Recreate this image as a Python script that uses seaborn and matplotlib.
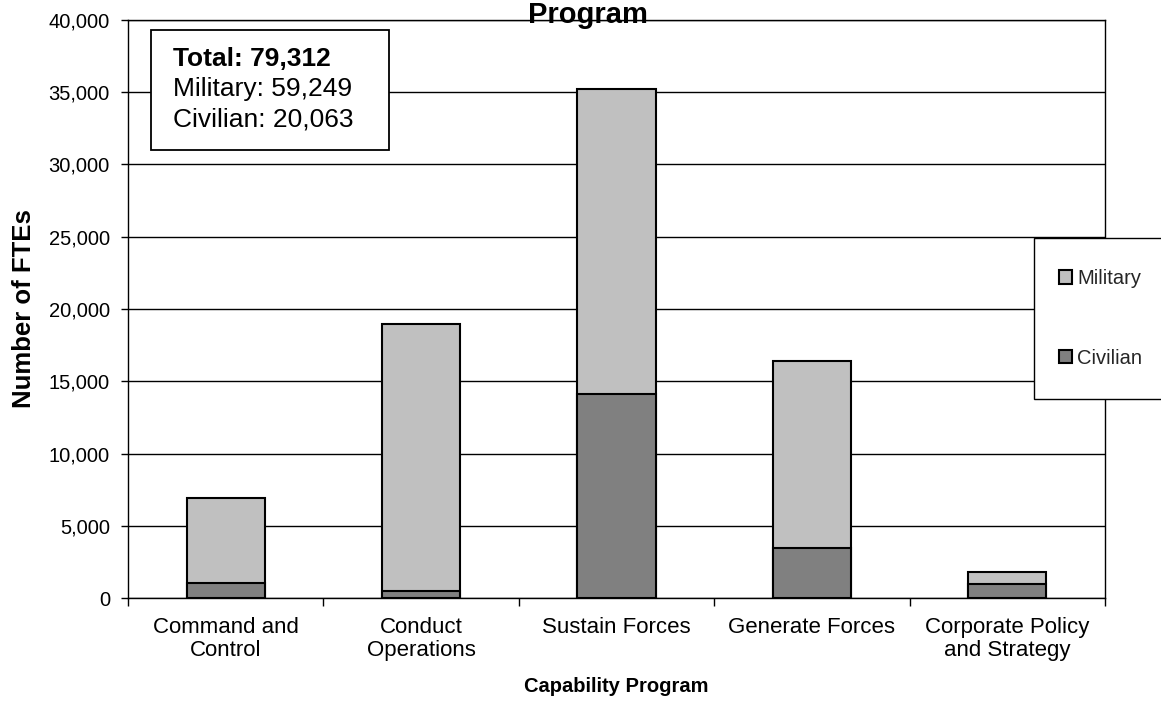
import matplotlib
matplotlib.use("Agg")
import matplotlib.pyplot as plt
from matplotlib.patches import Patch, Rectangle
from matplotlib.ticker import FuncFormatter, FixedLocator
import pandas as pd
import seaborn as sns

# FTEs by capability program
programs = [
    "Command and\nControl",
    "Conduct\nOperations",
    "Sustain Forces",
    "Generate Forces",
    "Corporate Policy\nand Strategy",
]
military = [5880, 18460, 21080, 12950, 879]
civilian = [1050, 480, 14120, 3470, 943]
y_ticks = [0, 5000, 10000, 15000, 20000, 25000, 30000, 35000, 40000]
summary_lines = ["Total: 79,312", "Military: 59,249", "Civilian: 20,063"]

MIL_COLOR = "#C0C0C0"
CIV_COLOR = "#808080"

sns.set_theme(style="white")
plt.rcParams["font.family"] = ["Liberation Sans", "DejaVu Sans"]

df = pd.DataFrame({"program": programs, "Military": military, "Civilian": civilian})
df["Total"] = df["Military"] + df["Civilian"]

W, H = 1161, 704
fig = plt.figure(figsize=(W / 100, H / 100), dpi=100)
ax = fig.add_axes([128 / W, 1 - 598 / H, (1105 - 128) / W, (598 - 20) / H])
ax.set_axisbelow(True)

# stacked bars: full height in the military colour, civilian segment on top of it
bar_kw = dict(width=0.4, edgecolor="black", linewidth=1.5, saturation=1, ax=ax, zorder=3)
sns.barplot(data=df, x="program", y="Total", color=MIL_COLOR, **bar_kw)
sns.barplot(data=df, x="program", y="Civilian", color=CIV_COLOR, **bar_kw)

ax.set_ylim(0, 40000)
ax.set_xlim(-0.5, len(programs) - 0.5)
ax.set_yticks(y_ticks)
ax.yaxis.set_major_formatter(FuncFormatter(lambda v, p: f"{v:,.0f}"))
ax.yaxis.grid(True, color="black", linewidth=1.0)
ax.xaxis.grid(False)

ax.xaxis.set_minor_locator(FixedLocator([i - 0.5 for i in range(len(programs) + 1)]))
ax.tick_params(axis="x", which="major", length=0, pad=14, labelsize=16, colors="black")
ax.tick_params(axis="x", which="minor", bottom=True, length=6, width=1, color="black", direction="out")
ax.tick_params(axis="y", which="major", left=True, length=5, width=1, color="black",
               direction="out", labelsize=14.5, labelcolor="black", pad=8)
for lbl in ax.get_xticklabels():
    lbl.set_linespacing(1.12)

for side in ["left", "right", "top", "bottom"]:
    ax.spines[side].set_visible(True)
    ax.spines[side].set_color("black")
    ax.spines[side].set_linewidth(1.0)

ax.set_xlabel("Capability Program", fontsize=14.5, fontweight="bold", color="black")
ax.xaxis.set_label_coords(0.5, -0.136)
ax.set_ylabel("Number of FTEs", fontsize=18.5, fontweight="bold", color="black")
ax.yaxis.set_label_coords(-0.094, 0.5)

# title (second line of the chart heading)
fig.text(588 / W, 1 - 23 / H, "Program", ha="center", va="baseline",
         fontsize=21, fontweight="bold", color="black")

# summary box
box = Rectangle((151 / W, 1 - 150 / H), (389 - 151) / W, 120 / H, transform=fig.transFigure,
                facecolor="white", edgecolor="black", linewidth=1.3, zorder=5)
fig.patches.append(box)
for i, line in enumerate(summary_lines):
    fig.text(173 / W, 1 - (66 + i * 30) / H, line, ha="left", va="baseline",
             fontsize=19, fontweight="bold" if i == 0 else "normal", color="black", zorder=6)

# legend frame running off the right edge
frame = Rectangle((1034 / W, 1 - 399 / H), 200 / W, (399 - 238) / H, transform=fig.transFigure,
                  facecolor="white", edgecolor="black", linewidth=1.0, zorder=5)
fig.patches.append(frame)
handles = [
    Patch(facecolor=MIL_COLOR, edgecolor="black", linewidth=1.5, label="Military"),
    Patch(facecolor=CIV_COLOR, edgecolor="black", linewidth=1.5, label="Civilian"),
]
fig.legend(handles=handles, loc="center left", bbox_to_anchor=(1059 / W, 1 - 318.5 / H),
           frameon=False, fontsize=14.5, handlelength=0.65, handleheight=0.65,
           handletextpad=0.25, labelspacing=3.0, borderpad=0, borderaxespad=0)

fig.savefig("out.png", dpi=100)
